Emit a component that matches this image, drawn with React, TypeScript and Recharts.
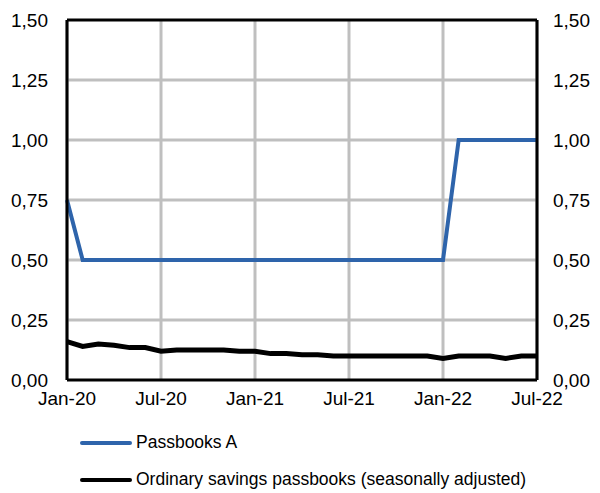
import { LineChart, Line, XAxis, YAxis, CartesianGrid, Legend, ReferenceLine } from "recharts";

const months = [
  "Jan-20", "Feb-20", "Mar-20", "Apr-20", "May-20", "Jun-20", "Jul-20", "Aug-20", "Sep-20", "Oct-20", "Nov-20", "Dec-20",
  "Jan-21", "Feb-21", "Mar-21", "Apr-21", "May-21", "Jun-21", "Jul-21", "Aug-21", "Sep-21", "Oct-21", "Nov-21", "Dec-21",
  "Jan-22", "Feb-22", "Mar-22", "Apr-22", "May-22", "Jun-22", "Jul-22",
];

const passbooksA = [
  0.75, 0.5, 0.5, 0.5, 0.5, 0.5, 0.5, 0.5, 0.5, 0.5, 0.5, 0.5,
  0.5, 0.5, 0.5, 0.5, 0.5, 0.5, 0.5, 0.5, 0.5, 0.5, 0.5, 0.5,
  0.5, 1.0, 1.0, 1.0, 1.0, 1.0, 1.0,
];

const ordinary = [
  0.16, 0.14, 0.15, 0.145, 0.135, 0.135, 0.12, 0.125, 0.125, 0.125, 0.125, 0.12,
  0.12, 0.11, 0.11, 0.105, 0.105, 0.1, 0.1, 0.1, 0.1, 0.1, 0.1, 0.1,
  0.09, 0.1, 0.1, 0.1, 0.09, 0.1, 0.1,
];

const xTicks = ["Jan-20", "Jul-20", "Jan-21", "Jul-21", "Jan-22", "Jul-22"];
const yTicks = [0, 0.25, 0.5, 0.75, 1.0, 1.25, 1.5];

const seriesNames = ["Passbooks A", "Ordinary savings passbooks (seasonally adjusted)"];
const BLUE = "#2E64AB";

const data = months.map((m, i) => ({ month: m, a: passbooksA[i], o: ordinary[i] }));

const fmt = (v: number) => v.toFixed(2).replace(".", ",");
const FONT = "'Liberation Sans', Arial, sans-serif";

function LegendBox() {
  const items = [
    { name: seriesNames[0], color: BLUE },
    { name: seriesNames[1], color: "#000" },
  ];
  return (
    <div style={{ fontFamily: FONT, fontSize: 17.5, color: "#000" }}>
      {items.map((it, i) => (
        <div key={i} style={{ display: "flex", alignItems: "center", height: 37 }}>
          <span style={{ display: "inline-block", width: 52, height: 4, background: it.color, borderRadius: 2 }} />
          <span style={{ marginLeft: 4 }}>{it.name}</span>
        </div>
      ))}
    </div>
  );
}

export default function App() {
  return (
    <div style={{ fontFamily: FONT }}>
      <LineChart width={584} height={485} data={data} margin={{ top: 12, right: 0, left: 0, bottom: 0 }}>
        <CartesianGrid yAxisId="left" stroke="#BFBFBF" strokeWidth={3} horizontalValues={[0.25, 0.5, 0.75, 1.0, 1.25]} />
        <XAxis
          dataKey="month"
          ticks={xTicks}
          interval={0}
          height={113}
          tickLine={false}
          tickMargin={6}
          axisLine={{ stroke: "#000", strokeWidth: 3 }}
          tick={{ fill: "#000", fontSize: 19 }}
        />
        <YAxis
          yAxisId="left"
          domain={[0, 1.5]}
          ticks={yTicks}
          width={59}
          tickLine={false}
          tickMargin={13}
          tickFormatter={fmt}
          axisLine={{ stroke: "#000", strokeWidth: 3 }}
          tick={{ fill: "#000", fontSize: 19 }}
        />
        <YAxis
          yAxisId="right"
          orientation="right"
          domain={[0, 1.5]}
          ticks={yTicks}
          width={55}
          tickLine={false}
          tickMargin={10}
          tickFormatter={fmt}
          axisLine={{ stroke: "#000", strokeWidth: 3 }}
          tick={{ fill: "#000", fontSize: 19 }}
        />
        <ReferenceLine yAxisId="left" y={1.5} stroke="#000" strokeWidth={3} />
        <Line yAxisId="left" type="linear" dataKey="a" name={seriesNames[0]} stroke={BLUE} strokeWidth={4} dot={false} isAnimationActive={false} />
        <Line yAxisId="right" type="linear" dataKey="o" name={seriesNames[1]} stroke="#000" strokeWidth={5} dot={false} isAnimationActive={false} />
        <Legend
          layout="vertical"
          align="center"
          verticalAlign="middle"
          wrapperStyle={{ left: 72, top: 416, width: 500 }}
          content={() => <LegendBox />}
        />
      </LineChart>
    </div>
  );
}
